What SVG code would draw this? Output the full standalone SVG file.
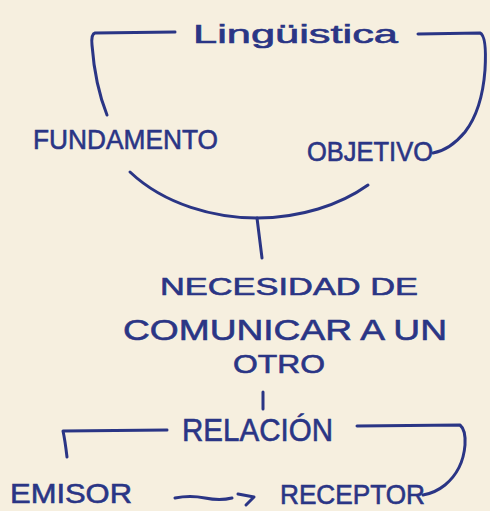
<svg xmlns="http://www.w3.org/2000/svg" width="490" height="511" viewBox="0 0 490 511">
<style>
.t{font-family:"Liberation Sans","DejaVu Sans",sans-serif;fill:#2a3585;stroke:#2a3585;stroke-width:0.6;text-anchor:start}
.c{fill:none;stroke:#2a3585;stroke-width:3;stroke-linecap:round;stroke-linejoin:round}
</style>
<rect width="490" height="511" fill="#f6efdf"/>
<g id="connectors">
<path class="c" d="M175,32 L95,33 Q91,34 92,45 Q95,85 107,115"/>
<path class="c" d="M418,34 L480,33 Q487,36 485,70 Q482,110 465,132 Q450,150 433,153"/>
<path class="c" d="M130,172 C165,205 215,218 257,218 C300,218 340,205 368,185"/>
<path class="c" d="M257,218 L262,258"/>
<path class="c" d="M263,392 L263,409"/>
<path class="c" d="M167,430 L63,431 Q65,440 67,457"/>
<path class="c" d="M357,426 L460,425 Q466,430 465,445 Q463,470 445,485 Q435,493 423,495"/>
<path class="c" d="M175,498 Q190,495 205,498 Q220,501 232,498"/>
<path class="c" d="M238,494 L254,497 L246,505"/>
</g>
<g id="linguistica"><text class="t" x="193" y="43" font-size="26" textLength="205" lengthAdjust="spacingAndGlyphs">Lingüistica</text></g>
<g id="fundamento"><text class="t" x="33" y="149" font-size="28" textLength="185" lengthAdjust="spacingAndGlyphs">FUNDAMENTO</text></g>
<g id="objetivo"><text class="t" x="307" y="161" font-size="27" textLength="126" lengthAdjust="spacingAndGlyphs">OBJETIVO</text></g>
<g id="necesidad">
<text class="t" x="160" y="295" font-size="24" textLength="258" lengthAdjust="spacingAndGlyphs">NECESIDAD DE</text>
<text class="t" x="123" y="340" font-size="30" textLength="324" lengthAdjust="spacingAndGlyphs">COMUNICAR A UN</text>
<text class="t" x="233" y="373" font-size="25" textLength="92" lengthAdjust="spacingAndGlyphs">OTRO</text>
</g>
<g id="relacion"><text class="t" x="182" y="441" font-size="32" textLength="151" lengthAdjust="spacingAndGlyphs">RELACIÓN</text></g>
<g id="emisor"><text class="t" x="10" y="503" font-size="28" textLength="122" lengthAdjust="spacingAndGlyphs">EMISOR</text></g>
<g id="receptor"><text class="t" x="280" y="504" font-size="27" textLength="145" lengthAdjust="spacingAndGlyphs">RECEPTOR</text></g>
</svg>
